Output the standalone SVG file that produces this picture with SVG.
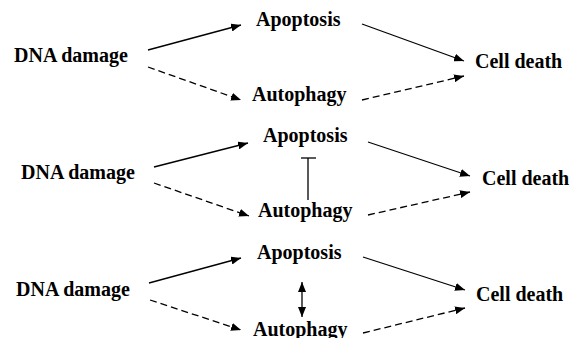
<svg xmlns="http://www.w3.org/2000/svg" width="581" height="338" viewBox="0 0 581 338">
<style>
text{font-family:"Liberation Serif","Times New Roman",serif;font-weight:bold;font-size:20px;fill:#000}
.c{stroke:#000;stroke-width:1.3;fill:none}
.d{stroke-dasharray:7 4}
</style>
<defs>
<marker id="ah" viewBox="0 0 10 8" refX="10" refY="4" markerWidth="10" markerHeight="8" markerUnits="userSpaceOnUse" orient="auto-start-reverse">
<path d="M0,0 L10,4 L0,8 Z" fill="#000"/>
</marker>
</defs>
<rect width="581" height="338" fill="#fff"/>
<g id="p1-dna"><text x="14" y="62">DNA damage</text></g>
<g id="p1-apop"><text x="256" y="26">Apoptosis</text></g>
<g id="p1-auto"><text x="252" y="101">Autophagy</text></g>
<g id="p1-death"><text x="475" y="68">Cell death</text></g>
<g id="p2-dna"><text x="21" y="179">DNA damage</text></g>
<g id="p2-apop"><text x="263" y="142">Apoptosis</text></g>
<g id="p2-auto"><text x="258" y="217">Autophagy</text></g>
<g id="p2-death"><text x="482" y="185">Cell death</text></g>
<g id="p3-dna"><text x="16" y="296">DNA damage</text></g>
<g id="p3-apop"><text x="257" y="259">Apoptosis</text></g>
<g id="p3-auto"><text x="253" y="336">Autophagy</text></g>
<g id="p3-death"><text x="476" y="301">Cell death</text></g>
<g id="connectors">
<line class="c" x1="148" y1="50" x2="241" y2="25" marker-end="url(#ah)"/>
<line class="c d" x1="148" y1="67" x2="241" y2="100" marker-end="url(#ah)"/>
<line class="c" x1="362" y1="24" x2="464" y2="61" marker-end="url(#ah)"/>
<line class="c d" x1="362" y1="100" x2="464" y2="76" marker-end="url(#ah)"/>
<line class="c" x1="154" y1="167" x2="248" y2="143" marker-end="url(#ah)"/>
<line class="c d" x1="154" y1="183" x2="249" y2="216" marker-end="url(#ah)"/>
<line class="c" x1="368" y1="142" x2="470" y2="176" marker-end="url(#ah)"/>
<line class="c d" x1="368" y1="215" x2="470" y2="192" marker-end="url(#ah)"/>
<line class="c" x1="308" y1="158" x2="308" y2="200" stroke="#333"/>
<line class="c" x1="301" y1="158" x2="316" y2="158"/>
<line class="c" x1="149" y1="283" x2="241" y2="258" marker-end="url(#ah)"/>
<line class="c d" x1="150" y1="300" x2="241" y2="330" marker-end="url(#ah)"/>
<line class="c" x1="363" y1="257" x2="465" y2="290" marker-end="url(#ah)"/>
<line class="c d" x1="363" y1="333" x2="465" y2="308" marker-end="url(#ah)"/>
<line class="c" x1="302" y1="282" x2="302" y2="317" marker-start="url(#ah)" marker-end="url(#ah)"/>
</g>
</svg>
